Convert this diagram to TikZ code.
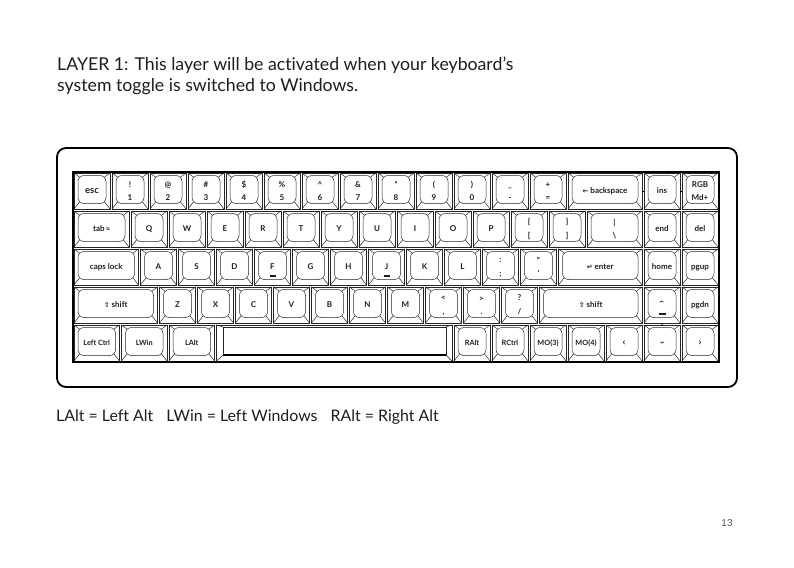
\documentclass[tikz,border=0pt]{standalone}
\usepackage{fontspec}
\setmainfont{Lato}[Ligatures={TeX,NoCommon}]
\newfontfamily\symfont{DejaVu Sans}
\newfontfamily\pagefont{Liberation Sans}
\usetikzlibrary{positioning}
\definecolor{ink}{HTML}{1E1E1E}
\definecolor{keyrule}{HTML}{262626}
\definecolor{pagegray}{HTML}{555555}

% label helpers
\newcommand{\md}{\fontsize{7.3}{9}\selectfont}
\newcommand{\sym}[1]{{\symfont\fontsize{7}{8}\selectfont #1}}
\newcommand{\chev}[3][0]{\raisebox{#2}{\fontsize{10}{10}\selectfont\rotatebox{#1}{#3}}}

\tikzset{
  keyline/.style={draw=keyrule, line width=0.5pt},
  keylabel/.style={font=\fontsize{8}{13.5}\selectfont\bfseries, text=ink, align=center, inner sep=0pt},
  bumpbar/.style={draw=ink, line width=1.2pt},
  bodytext/.style={font=\fontsize{17.7}{21}\selectfont, text=ink, inner sep=0pt}
}

% one key cell: name, left (units), row, width (units), label
\newcommand{\keycell}[5]{%
  \pgfmathsetmacro{\ax}{73+#2*38}%
  \pgfmathsetmacro{\bx}{73+(#2+#4)*38}%
  \pgfmathsetmacro{\ay}{172+#3*38}%
  \pgfmathsetmacro{\by}{\ay+38}%
  \draw[keyline] (\ax+0.8,\ay+0.8) rectangle (\bx-0.8,\by-0.8);
  \draw[keyline, rounded corners=6pt] (\ax+5,\ay+3.5) rectangle (\bx-5,\by-6.5);
  \draw[keyline] (\ax+0.8,\ay+0.8) -- (\ax+6.6,\ay+5.2)
                 (\bx-0.8,\ay+0.8) -- (\bx-6.6,\ay+5.2)
                 (\ax+0.8,\by-0.8) -- (\ax+6.6,\by-8.2)
                 (\bx-0.8,\by-0.8) -- (\bx-6.6,\by-8.2);
  \node[keylabel] (#1) at ({(\ax+\bx)/2},\ay+18.9) {\vphantom{Qg}#5};
}

% a row of keys: name prefix, row, start (units), list of width/label
\newcommand{\keyrow}[4]{%
  \gdef\kx{#3}%
  \foreach \w/\lab [count=\i] in {#4}{%
    \keycell{#1-\i}{\kx}{#2}{\w}{\lab}%
    \pgfmathsetmacro{\nx}{\kx+\w}\xdef\kx{\nx}%
  }}

\begin{document}
\begin{tikzpicture}[x=1pt, y=-1pt]
  \useasboundingbox (0,0) rectangle (794,567);
  \fill[white] (0,0) rectangle (794,567);

  % heading
  \node[bodytext, anchor=base west] (title1) at (57,71)
    {LAYER 1: This layer will be activated when your keyboard’s};
  \node[bodytext, anchor=base west] (title2) at (57,92)
    {system toggle is switched to Windows.};

  % case and plate
  \draw[black, line width=1.8pt, rounded corners=9pt] (57,148) rectangle (737,387);

  \keyrow{k1}{0}{0}{1/{\fontsize{9.5}{11}\selectfont esc}, 1/{!\\1}, 1/{@\\2}, 1/{\#\\3}, 1/{\$\\4},
    1/{\%\\5}, 1/{\^{}\\6}, 1/{\&\\7}, 1/{*\\8}, 1/{(\\9}, 1/{)\\0}, 1/{\_\\-}, 1/{+\\=},
    2/{\sym{←} backspace}, 1/ins, 1/{RGB\\Md+}}
  \keyrow{k2}{1}{0}{1.5/{tab\,\raisebox{1pt}{\symfont\fontsize{4.5}{4}\selectfont ⇆}}, 1/Q, 1/W, 1/E, 1/R, 1/T, 1/Y,
    1/U, 1/I, 1/O, 1/P, 1/{\{\\{[}}, 1/{\}\\{]}}, 1.5/{|\\\textbackslash}, 1/end, 1/del}
  \keyrow{k3}{2}{0}{1.75/{caps lock}, 1/A, 1/S, 1/D, 1/F, 1/G, 1/H, 1/J, 1/K, 1/L,
    1/{:\\;}, 1/{"\\'}, 2.25/{\sym{↵} enter}, 1/home, 1/pgup}
  \keyrow{k4}{3}{0}{2.25/{\sym{⇧} shift}, 1/Z, 1/X, 1/C, 1/V, 1/B, 1/N, 1/M,
    1/{<\\,}, 1/{>\\.}, 1/{?\\/}, 2.75/{\sym{⇧} shift}, 1/{\chev[90]{3.5pt}{›}}, 1/pgdn}
  \keyrow{k5}{4}{0}{1.25/{\md Left Ctrl}, 1.25/{\md LWin}, 1.25/{\md LAlt}}
  \keyrow{k6}{4}{10}{1/{\md RAlt}, 1/{\md RCtrl}, 1/{\md MO(3)}, 1/{\md MO(4)},
    1/{\chev{0pt}{‹}}, 1/{\chev[-90]{4pt}{›}}, 1/{\chev{0pt}{›}}}

  % space bar
  \draw[keyline] (216.3,324.8) rectangle (452.2,361.2);
  \draw[keyline] (223,327) rectangle (446,355);
  \draw[line width=1.6pt] (223,355) -- (446,355);
  \draw[keyline] (216.3,324.8) -- (223,327) (216.3,361.2) -- (223,355)
                 (452.2,324.8) -- (446,327) (452.2,361.2) -- (446,355);

  % homing bars and small marks
  \draw[bumpbar] ([xshift=-3pt, yshift=-9pt]k3-5.center) -- ++(6pt,0);
  \draw[bumpbar] ([xshift=-3pt, yshift=-9pt]k3-8.center) -- ++(6pt,0);
  \draw[bumpbar] ([xshift=-3.5pt, yshift=-9pt]k4-13.center) -- ++(7pt,0);
  \draw[line width=0.9pt] (641.5,191) -- (644,191) (679.5,191) -- (682,191);
  \fill (662,325) circle (0.9);

  \draw[black, line width=2pt] (73,172) rectangle (719,362);

  % legend and page number
  \node[bodytext, font=\fontsize{15.9}{19}\selectfont, anchor=base west] (legend) at (56,421)
    {LAlt = Left Alt\hspace{9pt} LWin = Left Windows\hspace{9pt} RAlt = Right Alt};
  \node[font=\pagefont\fontsize{10}{12}\selectfont, text=pagegray, anchor=base, inner sep=0pt] (pagenum) at (727,526) {13};
\end{tikzpicture}
\end{document}
